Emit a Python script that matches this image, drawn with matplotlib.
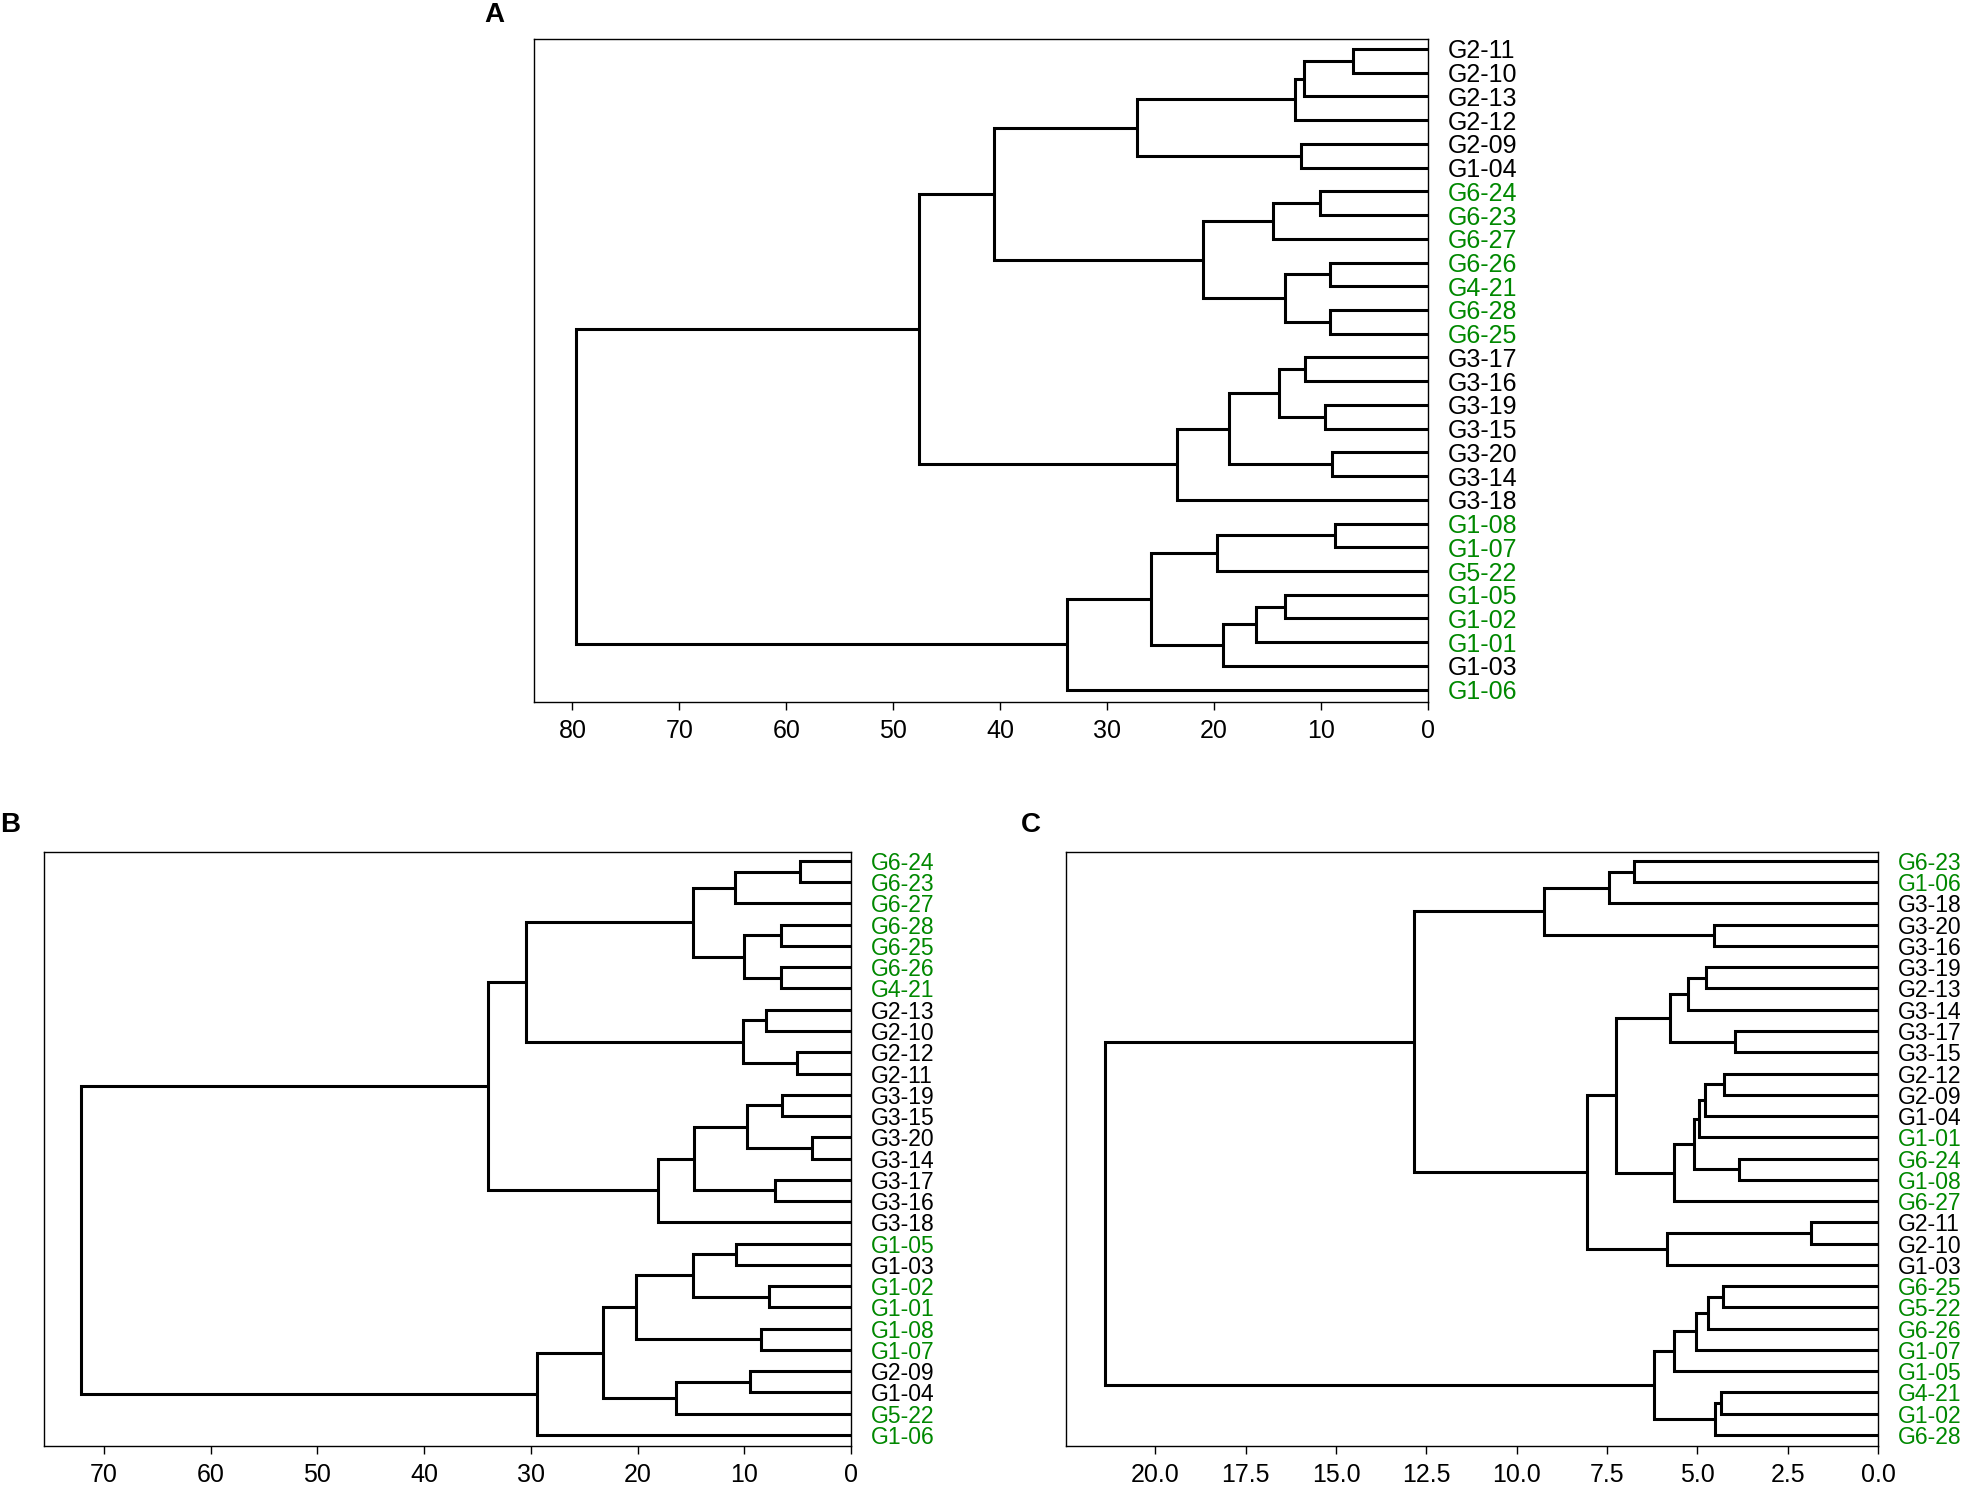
import matplotlib
matplotlib.use("Agg")
import matplotlib.pyplot as plt
import numpy as np

plt.rcParams['font.family'] = ['Liberation Sans', 'DejaVu Sans']

GREEN = '#008800'

# --- panel A ---
leaves_a = ["G2-11", "G2-10", "G2-13", "G2-12", "G2-09", "G1-04",
            "G6-24", "G6-23", "G6-27", "G6-26", "G4-21", "G6-28", "G6-25",
            "G3-17", "G3-16", "G3-19", "G3-15", "G3-20", "G3-14", "G3-18",
            "G1-08", "G1-07", "G5-22", "G1-05", "G1-02", "G1-01", "G1-03", "G1-06"]
# (child, child, height); integers point to earlier merges
merges_a = [
    ("G2-11", "G2-10", 7.0),
    (0, "G2-13", 11.6),
    (1, "G2-12", 12.4),
    ("G2-09", "G1-04", 11.9),
    (2, 3, 27.2),
    ("G6-24", "G6-23", 10.1),
    (5, "G6-27", 14.5),
    ("G6-26", "G4-21", 9.2),
    ("G6-28", "G6-25", 9.2),
    (7, 8, 13.4),
    (6, 9, 21.0),
    (4, 10, 40.6),
    ("G3-17", "G3-16", 11.5),
    ("G3-19", "G3-15", 9.6),
    (12, 13, 13.9),
    ("G3-20", "G3-14", 9.0),
    (14, 15, 18.6),
    (16, "G3-18", 23.5),
    (11, 17, 47.6),
    ("G1-08", "G1-07", 8.7),
    (19, "G5-22", 19.7),
    ("G1-05", "G1-02", 13.4),
    (21, "G1-01", 16.1),
    (22, "G1-03", 19.2),
    (20, 23, 25.9),
    (24, "G1-06", 33.8),
    (18, 25, 79.7),
]
ticks_a = [0, 10, 20, 30, 40, 50, 60, 70, 80]
tick_labels_a = ["0", "10", "20", "30", "40", "50", "60", "70", "80"]

# --- panel B ---
leaves_b = ["G6-24", "G6-23", "G6-27", "G6-28", "G6-25", "G6-26", "G4-21",
            "G2-13", "G2-10", "G2-12", "G2-11",
            "G3-19", "G3-15", "G3-20", "G3-14", "G3-17", "G3-16", "G3-18",
            "G1-05", "G1-03", "G1-02", "G1-01", "G1-08", "G1-07",
            "G2-09", "G1-04", "G5-22", "G1-06"]
merges_b = [
    ("G6-24", "G6-23", 4.8),
    (0, "G6-27", 10.9),
    ("G6-28", "G6-25", 6.6),
    ("G6-26", "G4-21", 6.6),
    (2, 3, 10.0),
    (1, 4, 14.8),
    ("G2-13", "G2-10", 8.0),
    ("G2-12", "G2-11", 5.1),
    (6, 7, 10.1),
    (5, 8, 30.4),
    ("G3-19", "G3-15", 6.5),
    ("G3-20", "G3-14", 3.7),
    (10, 11, 9.7),
    ("G3-17", "G3-16", 7.1),
    (12, 13, 14.7),
    (14, "G3-18", 18.1),
    (9, 15, 34.0),
    ("G1-05", "G1-03", 10.8),
    ("G1-02", "G1-01", 7.7),
    (17, 18, 14.8),
    ("G1-08", "G1-07", 8.4),
    (19, 20, 20.1),
    ("G2-09", "G1-04", 9.5),
    (22, "G5-22", 16.4),
    (21, 23, 23.2),
    (24, "G1-06", 29.4),
    (16, 25, 72.1),
]
ticks_b = [0, 10, 20, 30, 40, 50, 60, 70]
tick_labels_b = ["0", "10", "20", "30", "40", "50", "60", "70"]

# --- panel C ---
leaves_c = ["G6-23", "G1-06", "G3-18", "G3-20", "G3-16",
            "G3-19", "G2-13", "G3-14", "G3-17", "G3-15",
            "G2-12", "G2-09", "G1-04", "G1-01", "G6-24", "G1-08", "G6-27",
            "G2-11", "G2-10", "G1-03",
            "G6-25", "G5-22", "G6-26", "G1-07", "G1-05", "G4-21", "G1-02", "G6-28"]
merges_c = [
    ("G6-23", "G1-06", 6.75),
    (0, "G3-18", 7.45),
    ("G3-20", "G3-16", 4.55),
    (1, 2, 9.25),
    ("G3-19", "G2-13", 4.75),
    (4, "G3-14", 5.25),
    ("G3-17", "G3-15", 3.95),
    (5, 6, 5.75),
    ("G2-12", "G2-09", 4.25),
    (8, "G1-04", 4.8),
    (9, "G1-01", 4.95),
    ("G6-24", "G1-08", 3.85),
    (10, 11, 5.1),
    (12, "G6-27", 5.65),
    (7, 13, 7.25),
    ("G2-11", "G2-10", 1.85),
    (15, "G1-03", 5.85),
    (14, 16, 8.05),
    (3, 17, 12.85),
    ("G6-25", "G5-22", 4.3),
    (19, "G6-26", 4.7),
    (20, "G1-07", 5.05),
    (21, "G1-05", 5.65),
    ("G4-21", "G1-02", 4.35),
    (23, "G6-28", 4.5),
    (22, 24, 6.2),
    (18, 25, 21.4),
]
ticks_c = [0, 2.5, 5, 7.5, 10, 12.5, 15, 17.5, 20]
tick_labels_c = ["0.0", "2.5", "5.0", "7.5", "10.0", "12.5", "15.0", "17.5", "20.0"]

black_labels = {"G1-03", "G1-04"}


def label_color(name):
    if name.startswith("G2") or name.startswith("G3") or name in black_labels:
        return "black"
    return GREEN


def draw_dendro(ax, leaves, merges, xmax, ticks, tick_labels, label_size=18):
    pos = {name: (0.0, i) for i, name in enumerate(leaves)}
    nodes = []
    for a, b, h in merges:
        ha, ya = nodes[a] if isinstance(a, int) else pos[a]
        hb, yb = nodes[b] if isinstance(b, int) else pos[b]
        ax.plot([ha, h, h, hb], [ya, ya, yb, yb], color="black", lw=2.2,
                solid_joinstyle="miter", solid_capstyle="butt")
        nodes.append((h, (ya + yb) / 2))

    n = len(leaves)
    ax.set_xlim(xmax, 0)
    ax.set_ylim(n - 1 + 0.52, -0.42)
    ax.set_xticks(ticks)
    ax.set_xticklabels(tick_labels, fontsize=18)
    ax.tick_params(axis="x", direction="out", length=6, width=1.0, pad=6)

    ax.yaxis.tick_right()
    ax.set_yticks(range(n))
    ax.set_yticklabels(leaves, fontsize=label_size)
    ax.tick_params(axis="y", length=0, pad=14)
    for lab in ax.get_yticklabels():
        lab.set_color(label_color(lab.get_text()))
    for sp in ax.spines.values():
        sp.set_linewidth(1.0)


fig = plt.figure(figsize=(19.75, 15.08), dpi=100)

W, H = 1975, 1508


def box(left, right, top, bottom):
    return [left / W, 1 - bottom / H, (right - left) / W, (bottom - top) / H]


ax_a = fig.add_axes(box(534, 1428, 39, 702))
draw_dendro(ax_a, leaves_a, merges_a, 83.6, ticks_a, tick_labels_a)

ax_b = fig.add_axes(box(44, 851, 852, 1446))
draw_dendro(ax_b, leaves_b, merges_b, 75.6, ticks_b, tick_labels_b, label_size=16.5)

ax_c = fig.add_axes(box(1066, 1878, 852, 1446))
draw_dendro(ax_c, leaves_c, merges_c, 22.47, ticks_c, tick_labels_c, label_size=16.5)

fig.text(494 / W, 1 - 15 / H, "A", fontsize=20, fontweight="bold", ha="center", va="center")
fig.text(10 / W, 1 - 825 / H, "B", fontsize=20, fontweight="bold", ha="center", va="center")
fig.text(1031 / W, 1 - 825 / H, "C", fontsize=20, fontweight="bold", ha="center", va="center")

fig.savefig("out.png", dpi=100)
